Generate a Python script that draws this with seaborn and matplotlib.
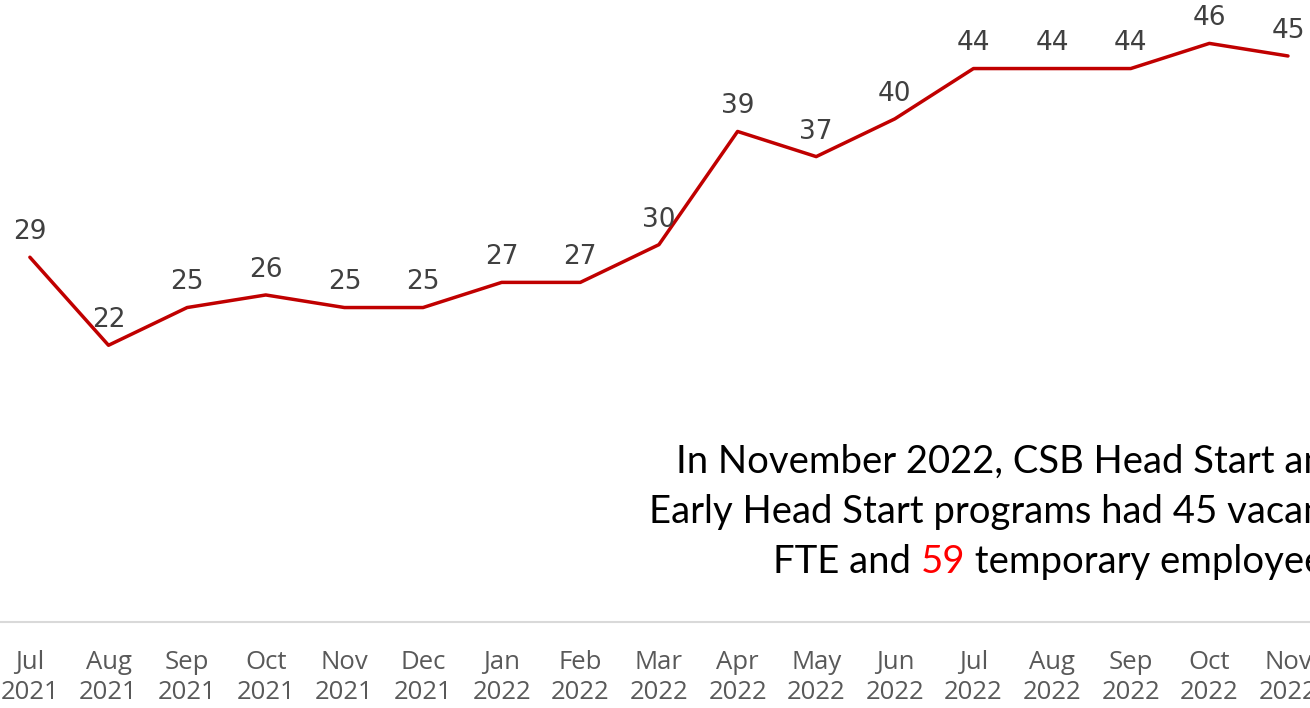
import seaborn as sns
import matplotlib.pyplot as plt
import pandas as pd

months = ['Jul', 'Aug', 'Sep', 'Oct', 'Nov', 'Dec', 'Jan', 'Feb', 'Mar',
          'Apr', 'May', 'Jun', 'Jul', 'Aug', 'Sep', 'Oct', 'Nov']
years = ['2021'] * 6 + ['2022'] * 11
vacancies = [29, 22, 25, 26, 25, 25, 27, 27, 30, 39, 37, 40, 44, 44, 44, 46, 45]

labels = [m + '\n' + y for m, y in zip(months, years)]
df = pd.DataFrame({'month': labels, 'vacant': vacancies})

sns.set_theme(style='white')

fig = plt.figure(figsize=(13.1, 7.08), dpi=100)
ax = fig.add_axes([0, 1 - 622 / 708, 1, 622 / 708])

sns.lineplot(data=df, x='month', y='vacant', sort=False, color='#C00000',
             linewidth=2.5, ax=ax)

for i, v in enumerate(vacancies):
    ax.annotate(str(v), (i, v), xytext=(0, 13), textcoords='offset points',
                ha='center', va='baseline', fontsize=19, color='#404040',
                family='DejaVu Sans')

ax.set_xlim(-0.38, 16.28)
ax.set_ylim(0, 49.45)
ax.set_xlabel('')
ax.set_ylabel('')
ax.set_yticks([])
ax.tick_params(axis='x', length=0, pad=20)
ax.set_xticks(range(len(labels)))
ax.set_xticklabels(labels, fontsize=18.5, color='#595959', family='Open Sans',
                   linespacing=1.3)
for side in ['left', 'right', 'top']:
    ax.spines[side].set_visible(False)
ax.spines['bottom'].set_color('#D9D9D9')
ax.spines['bottom'].set_linewidth(1.5)

# note text, cut off at the right edge like the original slide
note_font = dict(fontsize=27.5, family='Lato', color='black')
fig.text(676 / 1310, 1 - 473 / 708, 'In November 2022, CSB Head Start and',
         va='baseline', **note_font)
fig.text(649 / 1310, 1 - 523 / 708, 'Early Head Start programs had 45 vacant',
         va='baseline', **note_font)
t1 = fig.text(773 / 1310, 1 - 573 / 708, 'FTE and ', va='baseline', **note_font)
t2 = ax.annotate('59', xy=(1, 0), xycoords=t1, va='bottom', ha='left',
                 fontsize=27.5, family='Lato', color='#FF0000')
ax.annotate(' temporary employees.', xy=(1, 0), xycoords=t2, va='bottom',
            ha='left', **note_font)

fig.savefig('out.png', dpi=100)
